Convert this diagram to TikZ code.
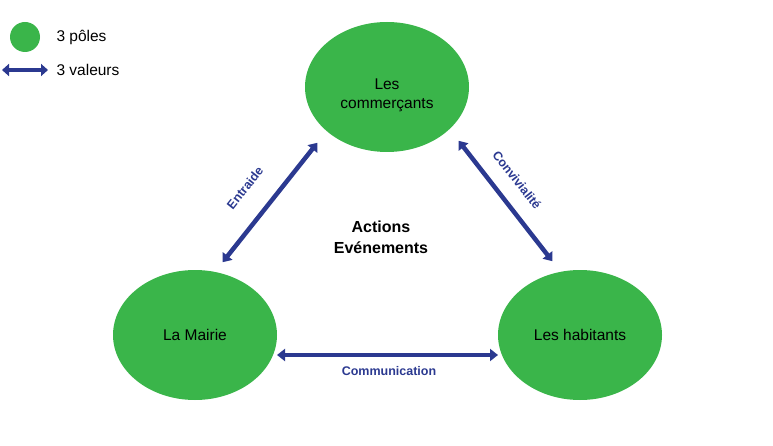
\documentclass[tikz,border=0pt]{standalone}
\usepackage{fontspec}
\setmainfont{Liberation Sans}
\usetikzlibrary{arrows.meta,shapes.geometric}
\definecolor{pole}{HTML}{3AB54A}
\definecolor{valeur}{HTML}{2B3990}
\tikzset{
  polenode/.style={ellipse, fill=pole, minimum width=164pt, minimum height=130pt, inner sep=0pt, align=center, font=\fontsize{15.5}{19}\selectfont},
  valarrow/.style={draw=valeur, line width=4.5pt, {Triangle[width=12pt,length=8pt]}-{Triangle[width=12pt,length=8pt]}, shorten <=1pt, shorten >=1pt},
  vallabel/.style={text=valeur, font=\fontsize{12.5}{15}\selectfont\bfseries},
  legtext/.style={anchor=west, font=\fontsize{15.5}{19}\selectfont},
}
\begin{document}
\begin{tikzpicture}[x=1pt,y=-1pt]
\useasboundingbox (0,0) rectangle (773,446);
% legend
\node[circle, fill=pole, minimum size=30pt, inner sep=0pt] (lc) at (25,37) {};
\node[legtext] (lt1) at (53,37) {3 pôles};
\coordinate (la1) at (2,70);
\coordinate (la2) at (48,70);
\draw[draw=valeur, line width=4.5pt, {Triangle[width=12pt,length=7pt]}-{Triangle[width=12pt,length=7pt]}] (la1) -- (la2);
\node[legtext] (lt2) at (53,70) {3 valeurs};
% poles
\node[polenode] (com) at (387,87) {};
\node[align=center, font=\fontsize{15.5}{19}\selectfont] (comtext) at ([yshift=-8pt]com.center) {Les\\commerçants};
\node[polenode] (mai) at (195,335) {La Mairie};
\node[polenode] (hab) at (580,335) {Les habitants};
% arrows
\coordinate (e1) at (318,142);
\coordinate (e2) at (222,263);
\coordinate (c1) at (458,140);
\coordinate (c2) at (553,262);
\coordinate (m1) at (276,355);
\coordinate (m2) at (499,355);
\draw[valarrow] (e1) -- (e2);
\draw[valarrow] (c1) -- (c2);
\draw[valarrow] (m1) -- (m2);
% labels
\node[vallabel, rotate=51.6] (le) at (245,188) {Entraide};
\node[vallabel, rotate=-52] (lcv) at (517,180) {Convivialité};
\node[vallabel] (lm) at (389,371) {Communication};
\node[font=\fontsize{16}{21}\selectfont\bfseries, align=center] (act) at (381,237) {Actions\\Evénements};
\end{tikzpicture}
\end{document}
